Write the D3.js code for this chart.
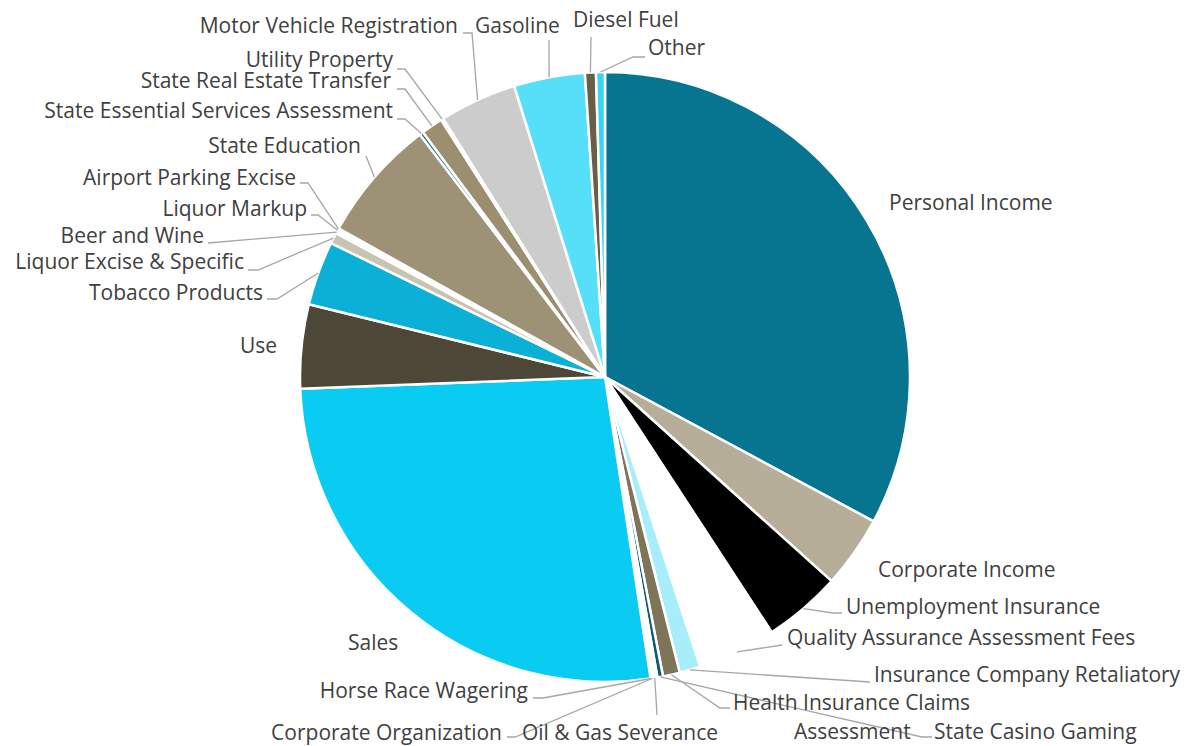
<!DOCTYPE html>
<html>
<head>
<meta charset="utf-8">
<script src="https://cdn.jsdelivr.net/npm/d3@7"></script>
<style>
  html, body { margin: 0; padding: 0; background: #ffffff; }
  svg { display: block; }
</style>
</head>
<body>
<svg id="chart" width="1186" height="746"></svg>
<script>
// ---- data (share of total revenue, %) ----
const categories = [
  "Personal Income", "Corporate Income", "Unemployment Insurance",
  "Quality Assurance Assessment Fees", "Insurance Company Retaliatory",
  "Health Insurance Claims", "State Casino Gaming", "Assessment",
  "Oil & Gas Severance", "Corporate Organization", "Horse Race Wagering",
  "Sales", "Use", "Tobacco Products", "Liquor Excise & Specific",
  "Beer and Wine", "Liquor Markup", "Airport Parking Excise",
  "State Education", "State Essential Services Assessment",
  "State Real Estate Transfer", "Utility Property",
  "Motor Vehicle Registration", "Gasoline", "Diesel Fuel", "Other"
];
const values = [
  32.75, 3.81, 4.11,
  4.14, 1.11,
  0.89, 0.30, 0.08,
  0.12, 0.10, 0.06,
  26.69, 4.44, 3.39, 0.58,
  0.12, 0.10, 0.06,
  6.50, 0.20,
  1.15, 0.12,
  4.08, 3.75, 0.58, 0.47
];

// ---- styles ----
const colors = [
  "#07758F", "#B7AE9A", "#000000",
  "#FFFFFF", "#A8EEFA",
  "#7E7459", "#0A5C6E", "#C9C3B1",
  "#4D4738", "#9D9276", "#0AB0D6",
  "#0ACCF2", "#4D4738", "#0AB0D6", "#C9C3B1",
  "#9D9276", "#7E7459", "#B7AE9A",
  "#9D9276", "#0A6478",
  "#9C8F70", "#7E7459",
  "#CCCCCC", "#56DFF9", "#6A5E47", "#37D4F3"
];

// ---- label layout (x, baseline y, anchor, leader bend/end points) ----
const labelLayout = {
  "Personal Income":                   { x: 889, y: 210, a: "start", pts: null },
  "Corporate Income":                  { x: 878, y: 577, a: "start", pts: null },
  "Unemployment Insurance":            { x: 846, y: 614, a: "start", pts: [[833, 613], [842, 613]] },
  "Quality Assurance Assessment Fees": { x: 787, y: 645, a: "start", pts: [[782, 645]] },
  "Insurance Company Retaliatory":     { x: 874, y: 682, a: "start", pts: [[870, 682]] },
  "Health Insurance Claims":           { x: 733, y: 710, a: "start", pts: [[720, 708], [730, 708]] },
  "State Casino Gaming":               { x: 934, y: 739, a: "start", pts: [[922, 737], [932, 737]] },
  "Assessment":                        { x: 794, y: 739, a: "start", pts: null },
  "Oil & Gas Severance":               { x: 620, y: 740, a: "middle", pts: [[657, 715]] },
  "Corporate Organization":            { x: 502, y: 740, a: "end", pts: [[515, 737], [507, 737]] },
  "Horse Race Wagering":               { x: 528, y: 698, a: "end", pts: [[543, 698], [533, 698]] },
  "Sales":                             { x: 348, y: 650, a: "start", pts: null },
  "Use":                               { x: 277, y: 353, a: "end", pts: null },
  "Tobacco Products":                  { x: 263, y: 300, a: "end", pts: [[277, 299], [267, 299]] },
  "Liquor Excise & Specific":          { x: 244, y: 269, a: "end", pts: [[258, 270], [248, 270]] },
  "Beer and Wine":                     { x: 204, y: 243, a: "end", pts: [[208, 243]] },
  "Liquor Markup":                     { x: 307, y: 216, a: "end", pts: [[318, 215], [311, 215]] },
  "Airport Parking Excise":            { x: 296, y: 185, a: "end", pts: [[308, 183], [300, 183]] },
  "State Education":                   { x: 361, y: 153, a: "end", pts: [[366, 156]] },
  "State Essential Services Assessment": { x: 393, y: 118, a: "end", pts: [[405, 119], [397, 119]] },
  "State Real Estate Transfer":        { x: 391, y: 88, a: "end", pts: [[405, 89], [397, 89]] },
  "Utility Property":                  { x: 393, y: 67, a: "end", pts: [[405, 69], [397, 69]] },
  "Motor Vehicle Registration":        { x: 458, y: 33, a: "end", pts: [[472, 33], [463, 33]] },
  "Gasoline":                          { x: 475, y: 33, a: "start", pts: [[549, 40]] },
  "Diesel Fuel":                       { x: 573, y: 27, a: "start", pts: [[591, 37]] },
  "Other":                             { x: 648, y: 55, a: "start", pts: [[633, 57], [645, 57]] }
};

const W = 1186, H = 746;
const cx = 605, cy = 377, R = 305;

const svg = d3.select("#chart");
svg.append("rect").attr("width", W).attr("height", H).attr("fill", "#ffffff");

const data = categories.map((c, i) => ({ name: c, value: values[i], color: colors[i] }));

const pie = d3.pie().sort(null).value(d => d.value).startAngle(0).endAngle(2 * Math.PI);
const arcs = pie(data);

const arc = d3.arc().innerRadius(0).outerRadius(R);
const edgeArc = d3.arc().innerRadius(R).outerRadius(R);

const g = svg.append("g").attr("transform", `translate(${cx},${cy})`);

g.selectAll("path.slice")
  .data(arcs)
  .join("path")
  .attr("class", "slice")
  .attr("d", arc)
  .attr("fill", d => d.data.color)
  .attr("stroke", "#ffffff")
  .attr("stroke-width", 2.5)
  .attr("stroke-linejoin", "round");

// leader lines
const line = d3.line();
const leaders = svg.append("g");
arcs.forEach(d => {
  const L = labelLayout[d.data.name];
  if (!L || !L.pts) return;
  const c = edgeArc.centroid(d);
  const start = [cx + c[0], cy + c[1]];
  leaders.append("path")
    .attr("d", line([start, ...L.pts]))
    .attr("fill", "none")
    .attr("stroke", "#A6A6A6")
    .attr("stroke-width", 1.3);
});

// labels
const labels = svg.append("g")
  .attr("font-family", "'Open Sans', 'Noto Sans', sans-serif")
  .attr("font-size", 21)
  .attr("fill", "#404040");
arcs.forEach(d => {
  const L = labelLayout[d.data.name];
  if (!L) return;
  labels.append("text")
    .attr("x", L.x)
    .attr("y", L.y)
    .attr("text-anchor", L.a)
    .text(d.data.name);
});
</script>
</body>
</html>
